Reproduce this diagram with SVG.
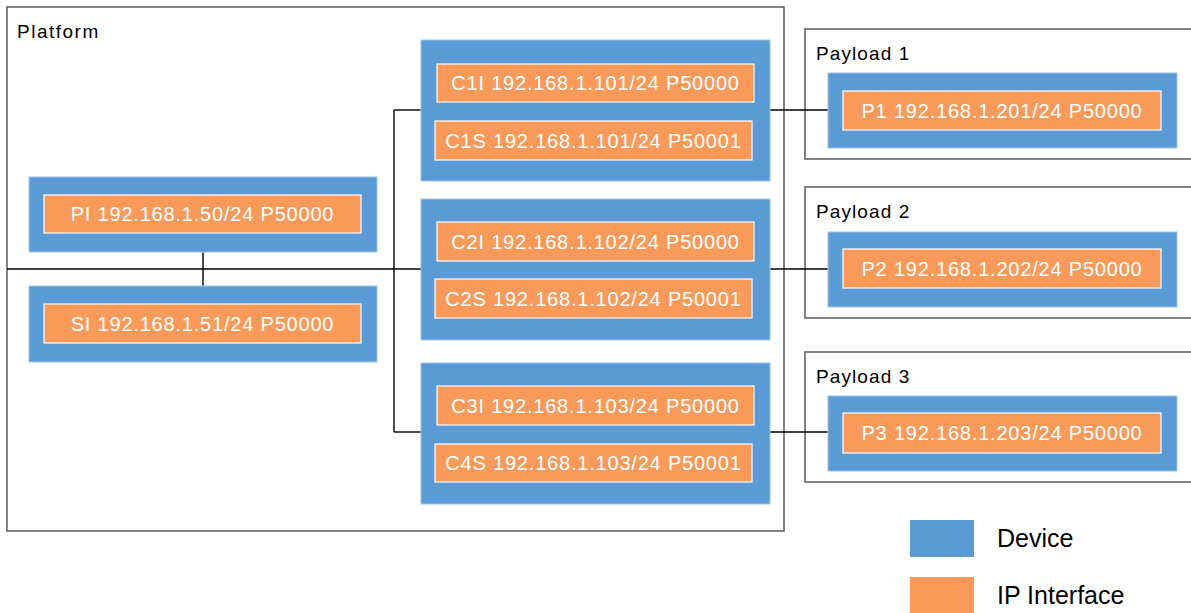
<svg xmlns="http://www.w3.org/2000/svg" width="1191" height="613" viewBox="0 0 1191 613">
<style>
.frame{fill:#fff;stroke:#595959;stroke-width:1.5}
.dev{fill:#5B9BD5;stroke:#9DC3E6;stroke-width:1}
.ip{fill:#F99A5B;stroke:#fff;stroke-width:1.2}
.ipt{font-family:"Liberation Sans",Arial,sans-serif;font-size:20px;fill:#fff;text-anchor:middle;letter-spacing:0.8px}
.lbl{font-family:"Liberation Sans",Arial,sans-serif;font-size:19px;fill:#000;letter-spacing:1.1px}
.leg{font-family:"Liberation Sans",Arial,sans-serif;font-size:25px;fill:#000}
.wire{fill:none;stroke:#000;stroke-width:1.4}
</style>
<rect width="1191" height="613" fill="#fff"/>
<g id="platform">
<rect class="frame" x="7" y="7" width="777" height="524"/>
<text class="lbl" x="17" y="38" style="letter-spacing:1.5px">Platform</text>
</g>
<g id="payload1">
<rect class="frame" x="805" y="29" width="392" height="130"/>
<text class="lbl" x="816" y="60">Payload 1</text>
</g>
<g id="payload2">
<rect class="frame" x="805" y="187" width="392" height="131"/>
<text class="lbl" x="816" y="218">Payload 2</text>
</g>
<g id="payload3">
<rect class="frame" x="805" y="352" width="392" height="130"/>
<text class="lbl" x="816" y="383">Payload 3</text>
</g>
<g id="connectors">
<path class="wire" d="M7 269H421"/>
<path class="wire" d="M203 252V286"/>
<path class="wire" d="M394 110V432"/>
<path class="wire" d="M394 110H421"/>
<path class="wire" d="M394 432H421"/>
<path class="wire" d="M770 110H828"/>
<path class="wire" d="M770 269H828"/>
<path class="wire" d="M770 432H828"/>
</g>
<g id="dev-pi">
<rect class="dev" x="29" y="177" width="348" height="75"/>
<rect class="ip" x="44" y="195" width="317" height="38"/>
<text class="ipt" x="202.5" y="221">PI 192.168.1.50/24 P50000</text>
</g>
<g id="dev-si">
<rect class="dev" x="29" y="286" width="348" height="76"/>
<rect class="ip" x="44" y="304" width="317" height="39"/>
<text class="ipt" x="202.5" y="330.5">SI 192.168.1.51/24 P50000</text>
</g>
<g id="dev-c1">
<rect class="dev" x="421" y="40" width="349" height="141"/>
<rect class="ip" x="437" y="64" width="317" height="38"/>
<text class="ipt" x="595.5" y="90">C1I 192.168.1.101/24 P50000</text>
<rect class="ip" x="435" y="121" width="317" height="39"/>
<text class="ipt" x="593.5" y="147.5">C1S 192.168.1.101/24 P50001</text>
</g>
<g id="dev-c2">
<rect class="dev" x="421" y="199" width="349" height="141"/>
<rect class="ip" x="437" y="222" width="317" height="39"/>
<text class="ipt" x="595.5" y="248.5">C2I 192.168.1.102/24 P50000</text>
<rect class="ip" x="435" y="279" width="317" height="39"/>
<text class="ipt" x="593.5" y="305.5">C2S 192.168.1.102/24 P50001</text>
</g>
<g id="dev-c3">
<rect class="dev" x="421" y="363" width="349" height="141"/>
<rect class="ip" x="437" y="386" width="317" height="39"/>
<text class="ipt" x="595.5" y="412.5">C3I 192.168.1.103/24 P50000</text>
<rect class="ip" x="435" y="444" width="317" height="38"/>
<text class="ipt" x="593.5" y="470">C4S 192.168.1.103/24 P50001</text>
</g>
<g id="dev-p1">
<rect class="dev" x="828" y="73" width="349" height="75"/>
<rect class="ip" x="843" y="91" width="318" height="39"/>
<text class="ipt" x="1002" y="117.5">P1 192.168.1.201/24 P50000</text>
</g>
<g id="dev-p2">
<rect class="dev" x="828" y="232" width="349" height="75"/>
<rect class="ip" x="843" y="249" width="318" height="39"/>
<text class="ipt" x="1002" y="275.5">P2 192.168.1.202/24 P50000</text>
</g>
<g id="dev-p3">
<rect class="dev" x="828" y="396" width="349" height="75"/>
<rect class="ip" x="843" y="413" width="318" height="40"/>
<text class="ipt" x="1002" y="440">P3 192.168.1.203/24 P50000</text>
</g>
<g id="legend">
<rect x="910" y="520" width="64" height="37" fill="#5B9BD5"/>
<text class="leg" x="997" y="547">Device</text>
<rect x="910" y="577" width="64" height="40" fill="#F99A5B"/>
<text class="leg" x="997" y="604">IP Interface</text>
</g>
</svg>
